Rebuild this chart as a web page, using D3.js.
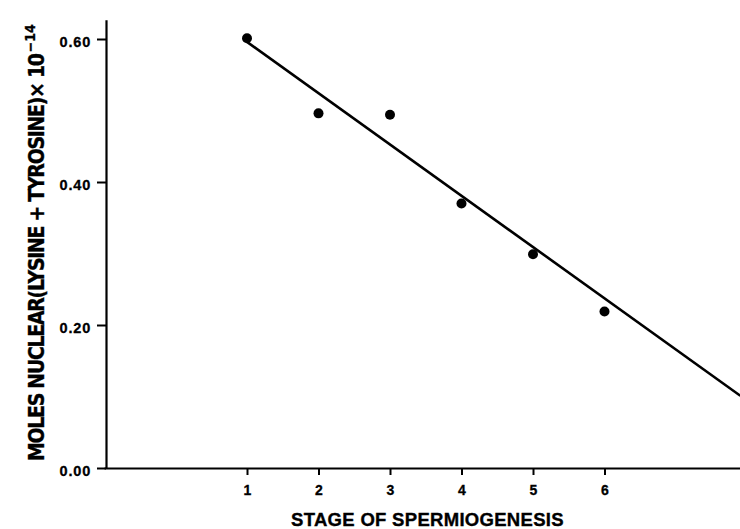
<!DOCTYPE html>
<html>
<head>
<meta charset="utf-8">
<script src="https://cdn.jsdelivr.net/npm/d3@7"></script>
<style>
  html, body { margin: 0; padding: 0; background: #fff; }
  svg { display: block; }
  text { font-family: "Liberation Sans", Arial, Helvetica, sans-serif; font-weight: bold; fill: #000; }
</style>
</head>
<body>
<svg id="chart" width="740" height="529"></svg>
<script>
// ---- data ----
const stages = [1, 2, 3, 4, 5, 6];
const moles = [0.601, 0.496, 0.494, 0.370, 0.299, 0.219];
const fitStage = [1, 7.9];
const fitMoles = [0.596, 0.101];
const xTicks = [1, 2, 3, 4, 5, 6];
const xTickLabels = ["1", "2", "3", "4", "5", "6"];
const yTicks = [0, 0.2, 0.4, 0.6];
const yTickLabels = ["0.00", "0.20", "0.40", "0.60"];
const xTitle = "STAGE OF SPERMIOGENESIS";
const yTitle = "MOLES NUCLEAR(LYSINE + TYROSINE)× 10";
const yTitleExp = "−14";

const svg = d3.select("#chart");
const x = d3.scaleLinear().domain([-1, 8]).range([104, 747.5]);
const y = d3.scaleLinear().domain([0, 0.627]).range([468, 19.7]);
const axisX0 = 106;

const fontMain = "'Liberation Sans', Arial, sans-serif";

// x axis
const gx = svg.append("g").attr("transform", `translate(0,${y(0)})`)
  .call(d3.axisBottom(x).tickValues(xTicks)
    .tickFormat((d, i) => xTickLabels[i])
    .tickSize(7).tickSizeOuter(0).tickPadding(10));
gx.select(".domain").attr("stroke", "#000").attr("stroke-width", 2.2);
gx.selectAll(".tick line").attr("stroke", "#000").attr("stroke-width", 2);
gx.selectAll(".tick text").attr("font-size", 14)
  .style("font-family", fontMain).style("font-weight", "bold")
  .attr("stroke", "#000").attr("stroke-width", 0.3);

// y axis
const gy = svg.append("g").attr("transform", `translate(${axisX0},0)`)
  .call(d3.axisLeft(y).tickValues(yTicks)
    .tickFormat((d, i) => yTickLabels[i])
    .tickSize(9).tickSizeOuter(0).tickPadding(6));
gy.select(".domain").attr("stroke", "#000").attr("stroke-width", 2.2);
gy.selectAll(".tick line").attr("stroke", "#000").attr("stroke-width", 2);
gy.selectAll(".tick text").attr("font-size", 14.5).attr("letter-spacing", 0.8)
  .attr("dy", "0.5em")
  .style("font-family", fontMain).style("font-weight", "bold")
  .attr("stroke", "#000").attr("stroke-width", 0.3);

// fitted line
const line = d3.line().x((d, i) => x(fitStage[i])).y((d, i) => y(fitMoles[i]));
svg.append("path").datum(fitStage).attr("d", line)
  .attr("fill", "none").attr("stroke", "#000").attr("stroke-width", 2.6);

// data points
svg.selectAll("circle.pt").data(stages).enter().append("circle")
  .attr("class", "pt")
  .attr("cx", d => x(d)).attr("cy", (d, i) => y(moles[i]))
  .attr("r", 5).attr("fill", "#000");

// x title
svg.append("text").attr("x", 427.5).attr("y", 526)
  .attr("text-anchor", "middle").attr("font-size", 18.5).attr("letter-spacing", 0.3)
  .attr("stroke", "#000").attr("stroke-width", 0.35)
  .text(xTitle);

// y title
const yt = svg.append("text")
  .attr("transform", "translate(44,461) rotate(-90)")
  .attr("text-anchor", "start").attr("font-size", 21)
  .style("font-family", "'Liberation Sans Narrow', 'Arial Narrow', 'DejaVu Sans Condensed', sans-serif")
  .attr("stroke", "#000").attr("stroke-width", 0.35);
yt.append("tspan").attr("textLength", 408).attr("lengthAdjust", "spacing").text(yTitle);
yt.append("tspan").attr("dy", -9).attr("dx", 2).attr("font-size", 14).text(yTitleExp);
</script>
</body>
</html>
